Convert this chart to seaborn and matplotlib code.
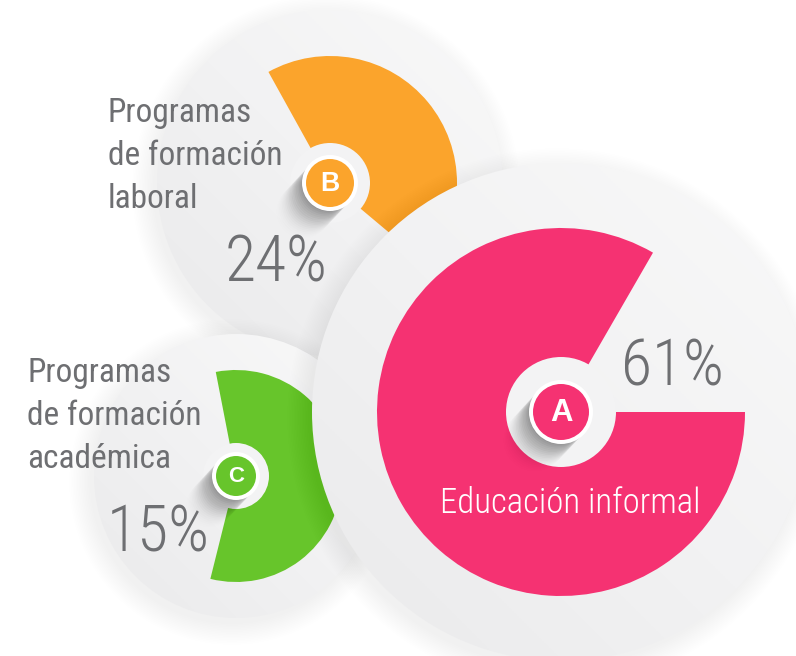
import numpy as np
import matplotlib
matplotlib.use("Agg")
import matplotlib.pyplot as plt
import seaborn as sns
from matplotlib.patches import Circle, Wedge
from matplotlib.colors import LinearSegmentedColormap

sns.set_theme(style="white")
plt.rcParams['font.family'] = ['Roboto Condensed', 'Roboto', 'DejaVu Sans']

""" Data """
letters = ["A", "B", "C"]
labels = ["Educación informal",
          "Programas\nde formación\nlaboral",
          "Programas\nde formación\nacadémica"]
shares = [61, 24, 15]
colors = ["#f53272", "#fba42c", "#67c52b"]

""" Layout (pixel space, y down) """
W, H = 796, 656
TEXT_GRAY = "#6e6f72"
layout = {
    # center, disk radius, wedge radius, hole radius, badge radius, visible arc (deg, ccw)
    "B": dict(c=(330, 183), disk=173, rout=127, hole=40, badge=24, arc=(-40, 119), z=1),
    "C": dict(c=(236, 476), disk=142, rout=106, hole=33, badge=20, arc=(-104, 101), z=10),
    "A": dict(c=(561, 412), disk=249, rout=184, hole=55, badge=28, arc=(60, 360), z=20),
}
pct_pos = {"A": (672, 385), "B": (276, 281), "C": (158, 552)}
label_pos = {"A": (570, 513), "B": (108, 122), "C": (27, 382)}
LINE_STEP = 43

disk_cmap = LinearSegmentedColormap.from_list("disk", ["#eaeaeb", "#f2f2f3", "#f9f9f9"])


def draw_disk(ax, cx, cy, r, z):
    # soft drop shadow
    for i in range(14):
        ax.add_patch(Circle((cx - 4, cy + 6), r + i * 1.6, color="black",
                            alpha=0.0045, lw=0, zorder=z))
    clip = Circle((cx, cy), r, facecolor="none", edgecolor="none", zorder=z + 0.1)
    ax.add_patch(clip)
    yy, xx = np.mgrid[-1:1:200j, -1:1:200j]
    grad = xx - yy
    im = ax.imshow(grad, extent=(cx - r, cx + r, cy + r, cy - r), origin="upper",
                   cmap=disk_cmap, vmin=-2, vmax=2, zorder=z + 0.1, interpolation="bilinear")
    im.set_clip_path(clip)


def draw_badge(ax, cx, cy, hole, rb, color, letter, z):
    ax.add_patch(Circle((cx, cy), hole, color="#f3f3f4", lw=0, zorder=z))
    # long smeared shadow to the lower left
    for k in range(1, 20):
        d = k * 2.0
        ax.add_patch(Circle((cx - d * 0.7, cy + d * 0.75), rb + 3, color="black",
                            alpha=0.045 * (1 - k / 20), lw=0, zorder=z + 0.1))
    ax.add_patch(Circle((cx, cy), rb + 4, color="white", lw=0, zorder=z + 0.2))
    ax.add_patch(Circle((cx, cy), rb, color=color, lw=0, zorder=z + 0.3))
    ax.text(cx, cy + 1, letter, color="white", fontsize=rb * 0.8, fontweight="bold",
            family=["Liberation Sans", "DejaVu Sans"], ha="center", va="center", zorder=z + 0.4)


fig = plt.figure(figsize=(W / 100, H / 100), dpi=100)
ax = fig.add_axes([0, 0, 1, 1])

for letter in ["B", "C", "A"]:
    i = letters.index(letter)
    L = layout[letter]
    cx, cy = L["c"]
    z = L["z"]
    draw_disk(ax, cx, cy, L["disk"], z)
    a0, a1 = L["arc"]
    # y axis is inverted, so visual angles flip sign
    ax.add_patch(Wedge((cx, cy), L["rout"], -a1, -a0, color=colors[i], lw=0, zorder=z + 1))
    draw_badge(ax, cx, cy, L["hole"], L["badge"], colors[i], letter, z + 2)

# percentages
for letter, v in zip(letters, shares):
    x, y = pct_pos[letter]
    ax.text(x, y, f"{v}%", color=TEXT_GRAY, fontsize=46, fontweight=300,
            ha="center", va="baseline", zorder=50)

# category labels
for i, letter in enumerate(letters):
    x, y = label_pos[letter]
    if letter == "A":
        ax.text(x, y, labels[i], color="white", fontsize=25, fontweight=300,
                ha="center", va="baseline", zorder=50)
    else:
        for j, line in enumerate(labels[i].split("\n")):
            ax.text(x, y + j * LINE_STEP, line, color=TEXT_GRAY, fontsize=24, fontweight=400,
                    ha="left", va="baseline", zorder=50)

ax.set_xlim(0, W)
ax.set_ylim(H, 0)
ax.set_aspect("equal")
ax.set_axis_off()
fig.savefig("out.png", dpi=100, facecolor="white")
